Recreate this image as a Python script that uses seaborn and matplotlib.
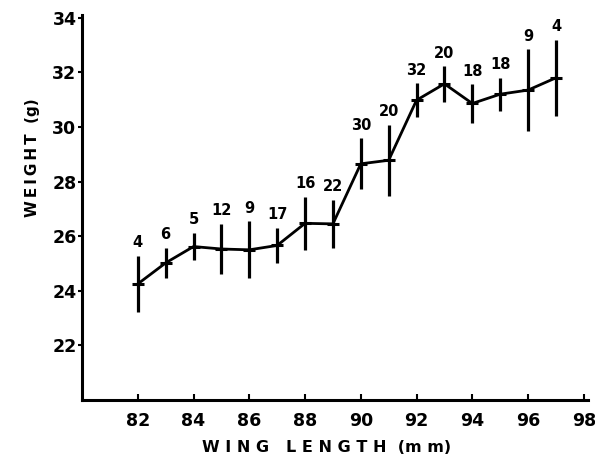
import matplotlib
matplotlib.use("Agg")
import matplotlib.pyplot as plt
import seaborn as sns
import pandas as pd

wing_length = [82, 83, 84, 85, 86, 87, 88, 89, 90, 91, 92, 93, 94, 95, 96, 97]
weight_mean = [24.25, 25.02, 25.62, 25.53, 25.5, 25.66, 26.47, 26.45, 28.65, 28.78,
               30.98, 31.58, 30.86, 31.2, 31.35, 31.8]
weight_err = [1.03, 0.56, 0.5, 0.92, 1.05, 0.65, 0.98, 0.88, 0.93, 1.3,
              0.62, 0.65, 0.7, 0.6, 1.5, 1.4]
sample_n = ["4", "6", "5", "12", "9", "17", "16", "22", "30", "20",
            "32", "20", "18", "18", "9", "4"]
x_ticks = [82, 84, 86, 88, 90, 92, 94, 96, 98]
y_ticks = [22, 24, 26, 28, 30, 32, 34]

df = pd.DataFrame({"wing": wing_length, "weight": weight_mean, "err": weight_err, "n": sample_n})

sns.set_style("ticks")
plt.rcParams['font.family'] = ['DejaVu Sans']
plt.rcParams.update({"text.color": "black", "axes.labelcolor": "black",
                     "xtick.color": "black", "ytick.color": "black",
                     "axes.edgecolor": "black"})

fig = plt.figure(figsize=(5.95, 4.58), dpi=100)
ax = fig.add_axes([82/595, 1 - 400/458, (588-82)/595, (400-15)/458])

ax.errorbar(df["wing"], df["weight"], yerr=df["err"], fmt="none",
            ecolor="black", elinewidth=2.3, capsize=0)
sns.lineplot(data=df, x="wing", y="weight", ax=ax, color="black", linewidth=2.0,
             marker="_", markersize=8, markeredgewidth=2.2, markeredgecolor="black")

for xv, yv, ev, lab in zip(df["wing"], df["weight"], df["err"], df["n"]):
    ax.text(xv, yv + ev + 0.2, lab, ha="center", va="bottom",
            fontsize=10.5, fontweight="bold", color="black")

ax.set_xlim(80, 98.15)
ax.set_ylim(20, 34.1)
ax.set_xticks(x_ticks)
ax.set_yticks(y_ticks)
ax.set_xticklabels([str(t) for t in x_ticks], fontsize=12.5, fontweight="bold")
ax.set_yticklabels([str(t) for t in y_ticks], fontsize=12.5, fontweight="bold")
ax.tick_params(axis="x", direction="in", length=4, width=1.5, pad=9, colors="black")
ax.tick_params(axis="y", direction="out", length=3, width=1.5, pad=1, colors="black")
for s in ["top", "right"]:
    ax.spines[s].set_visible(False)
for s in ["left", "bottom"]:
    ax.spines[s].set_linewidth(2.2)
    ax.spines[s].set_color("black")

ax.set_xlabel("W I N G   L E N G T H  (m m)", fontsize=11.5, fontweight="bold", color="black")
ax.xaxis.set_label_coords((327 - 82) / 506, -(448 - 400) / 385)
ax.xaxis.label.set_va("center")
ax.set_ylabel("W\u2009E\u2009I\u2009G\u2009H\u2009T  (g)", fontsize=11, fontweight="bold", color="black")
ax.yaxis.set_label_coords(-(82 - 33) / 506, (400 - 158) / 385)
ax.yaxis.label.set_va("center")

fig.savefig("out.png", dpi=100)
